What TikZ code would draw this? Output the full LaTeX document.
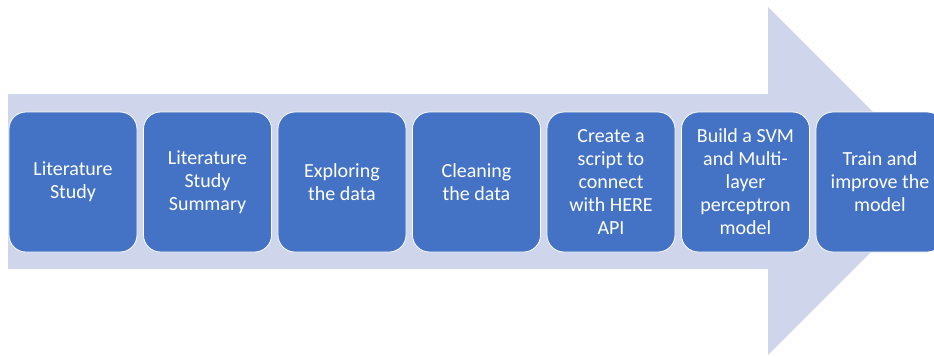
\documentclass[tikz,border=0pt]{standalone}
\usepackage{fontspec}
\setmainfont{Carlito}
\definecolor{arrowfill}{HTML}{CFD5EA}
\definecolor{stepblue}{HTML}{4472C4}
\begin{document}
\begin{tikzpicture}[x=1pt,y=-1pt,
  stepbox/.style={draw=white, line width=0.8pt, fill=stepblue,
    rounded corners=17pt, minimum width=128pt, minimum height=140pt,
    text=white, align=center, inner sep=0pt,
    font=\fontsize{20}{23}\selectfont},
]
\useasboundingbox (0,0) rectangle (934,356);
\clip (0,0) rectangle (934,356);
% background block arrow
\fill[arrowfill] (8,94) -- (768,94) -- (768,7) -- (942,181)
  -- (768,355) -- (768,269) -- (8,269) -- cycle;
% process steps
\foreach \i/\t in {0/{Literature\\Study},
                   1/{Literature\\Study\\Summary},
                   2/{Exploring\\the data},
                   3/{Cleaning\\the data},
                   4/{Create a\\script to\\connect\\with HERE\\API},
                   5/{Build a SVM\\and Multi-\\layer\\perceptron\\model},
                   6/{Train and\\improve the\\model}}{
  \node[stepbox] (s\i) at ({73+134.5*\i},182) {\t};
}
\end{tikzpicture}
\end{document}
